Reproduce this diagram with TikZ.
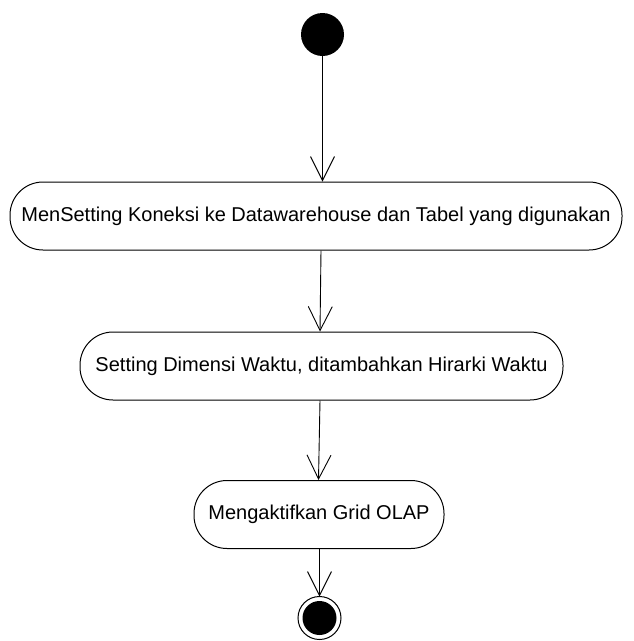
\documentclass[tikz,border=0pt]{standalone}
\usepackage{fontspec}
\setmainfont{Liberation Sans}
\usetikzlibrary{arrows.meta}
\begin{document}
\begin{tikzpicture}[x=1pt,y=-1pt,
  act/.style={draw=black,line width=1pt,rounded corners=33pt,minimum height=68pt,inner sep=0pt,font=\fontsize{20}{22}\selectfont},
  flow/.style={draw=black,line width=0.9pt,-{Straight Barb[length=24pt,width=24pt,line width=0.9pt]}}]
\useasboundingbox (0,0) rectangle (634,641);
\fill (322.5,34.5) circle (21.5);
\coordinate (start) at (322.5,56);
\node[act,minimum width=612pt] (a1) at (316,216) {MenSetting Koneksi ke Datawarehouse dan Tabel yang digunakan};
\node[act,minimum width=483pt] (a2) at (321.5,366) {Setting Dimensi Waktu, ditambahkan Hirarki Waktu};
\node[act,minimum width=250pt] (a3) at (319,514.5) {Mengaktifkan Grid OLAP};
\draw[line width=1pt] (319.5,618) circle (21.5);
\fill (319.5,618) circle (17);
\coordinate (endc) at (319.5,596.5);
\draw[flow] (start) -- (start |- a1.north);
\draw[flow] (a1.south -| 321,0) -- (a2.north -| 320,0);
\draw[flow] (a2.south -| 320,0) -- (a3.north -| 318.5,0);
\draw[flow] (a3.south -| 319.5,0) -- (endc);
\end{tikzpicture}
\end{document}
